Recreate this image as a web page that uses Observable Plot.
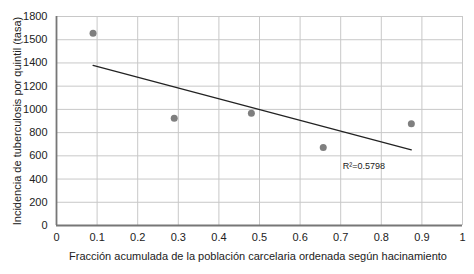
<!DOCTYPE html>
<html><head><meta charset="utf-8">
<script src="https://cdn.jsdelivr.net/npm/d3@7"></script>
<script src="https://cdn.jsdelivr.net/npm/@observablehq/plot@0.6"></script>
<style>
body{margin:0;background:#fff;}
#chart{width:474px;height:274px;}
</style></head><body><div id="chart"></div>
<script>
const fraccion = [0.09, 0.29, 0.48, 0.657, 0.874];
const incidencia = [1656, 924, 967, 672, 876];
const xTicks = [0,0.1,0.2,0.3,0.4,0.5,0.6,0.7,0.8,0.9,1];
const xTickLabels = ["0","0.1","0.2","0.3","0.4","0.5","0.6","0.7","0.8","0.9","1"];
const yTicks = [0,200,400,600,800,1000,1200,1400,1600,1800];
const yTickLabels = ["0","200","400","600","800","1000","1200","1400","1500","1800"];
const r2Label = "R²=0.5798";
const xTitle = "Fracción acumulada de la población carcelaria ordenada según hacinamiento";
const yTitle = "Incidencia de tuberculosis por quintil (tasa)";

const data = fraccion.map((x,i)=>({x, y: incidencia[i]}));
const font = "Liberation Sans, Arial, Helvetica, sans-serif";

const plot = Plot.plot({
  width: 474, height: 274,
  marginLeft: 56, marginRight: 12, marginTop: 16, marginBottom: 49,
  style: {fontFamily: font, fontSize: "11px", color: "#222", background: "#fff"},
  x: {domain: [0,1], ticks: xTicks, tickFormat: d => xTickLabels[xTicks.indexOf(d)] ?? "", label: null},
  y: {domain: [0,1800], ticks: yTicks, tickFormat: d => yTickLabels[yTicks.indexOf(d)] ?? "", label: null},
  marks: [
    Plot.gridX(xTicks, {stroke: "#c8c8c8", strokeOpacity: 1, strokeWidth: 1}),
    Plot.gridY(yTicks, {stroke: "#c8c8c8", strokeOpacity: 1, strokeWidth: 1}),
    Plot.axisX(xTicks, {tickSize: 0, tickPadding: 8, fontSize: 11, fill: "#222", tickFormat: d => xTickLabels[xTicks.indexOf(d)]}),
    Plot.axisY(yTicks, {tickSize: 0, tickPadding: 9, fontSize: 11, fill: "#222", tickFormat: d => yTickLabels[yTicks.indexOf(d)]}),
    Plot.ruleX([0], {stroke: "#777", strokeWidth: 1.8}),
    Plot.ruleY([0], {stroke: "#777", strokeWidth: 1.8}),
    Plot.linearRegressionY(data, {x: "x", y: "y", stroke: "#222", strokeWidth: 1.2, ci: 0}),
    Plot.dot(data, {x: "x", y: "y", r: 3.5, fill: "#7f7f7f", stroke: "none"}),
    Plot.text([r2Label], {x: [0.705], y: [510], text: d => d, textAnchor: "start", fontSize: 9, fill: "#222"})
  ]
});

const svg = d3.select(plot);
svg.append("text")
  .attr("x", 258).attr("y", 260)
  .attr("text-anchor", "middle")
  .attr("font-family", font).attr("font-size", 11).attr("fill", "#222")
  .text(xTitle);
svg.append("text")
  .attr("transform", "translate(21,121) rotate(-90)")
  .attr("text-anchor", "middle")
  .attr("font-family", font).attr("font-size", 11).attr("fill", "#222")
  .text(yTitle);

document.getElementById("chart").append(plot);
</script></body></html>
